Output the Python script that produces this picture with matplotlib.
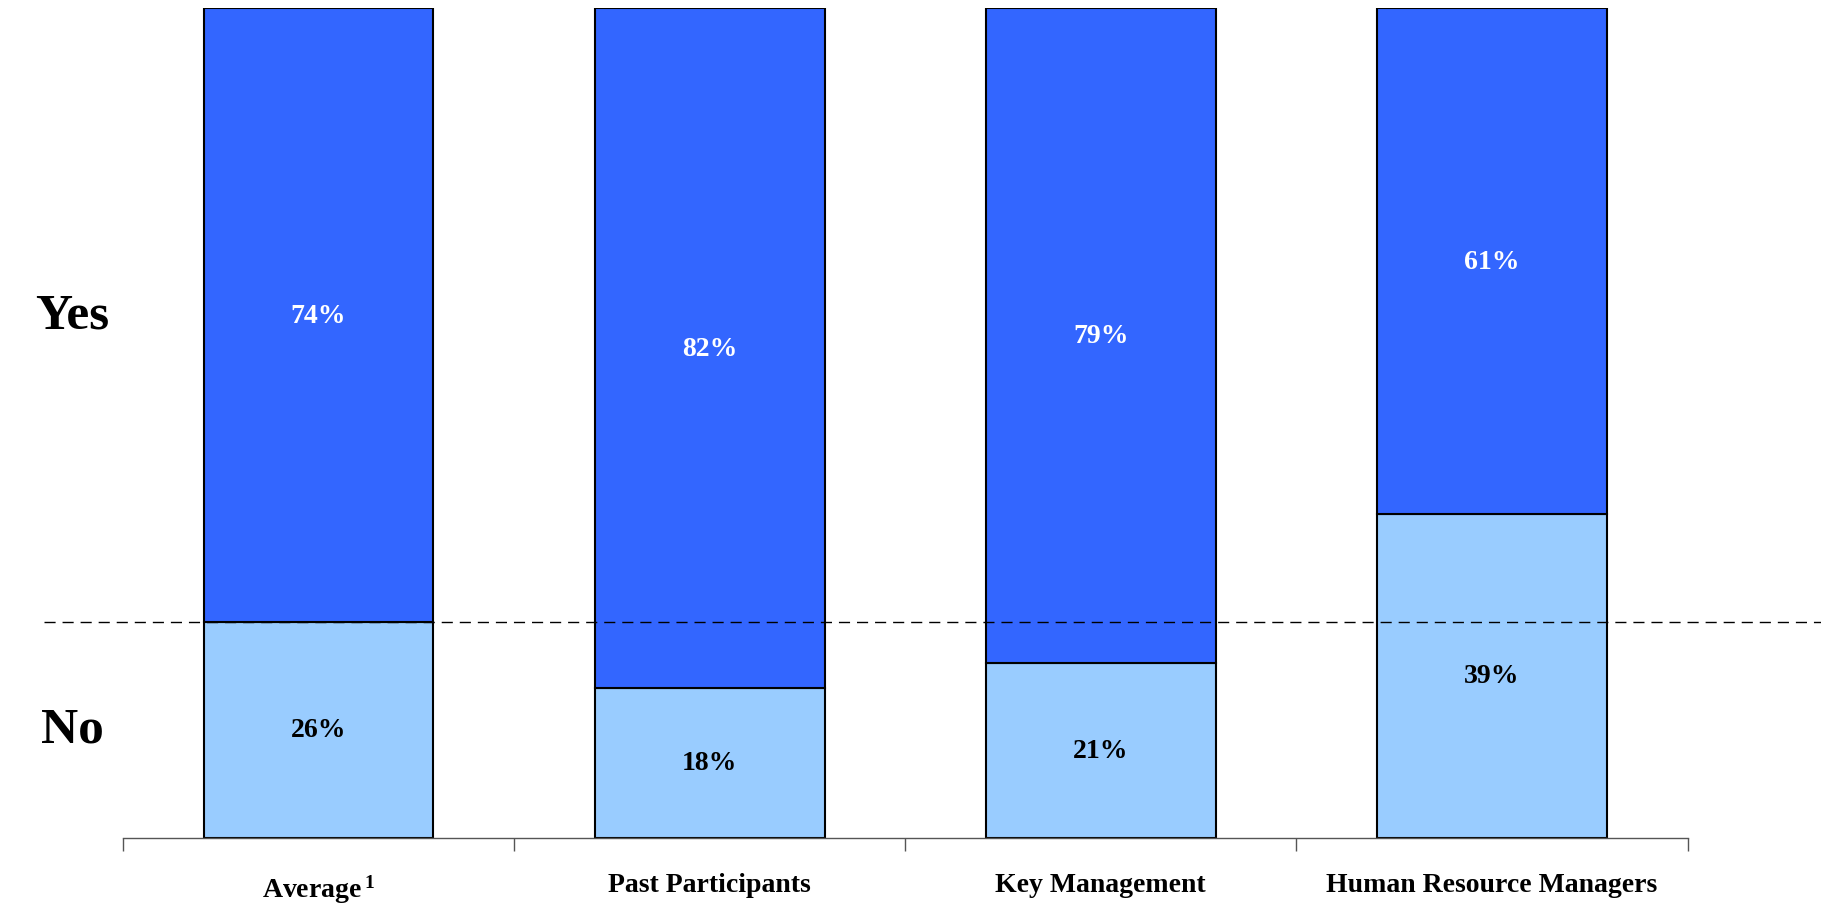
import matplotlib
matplotlib.use("Agg")
import matplotlib.pyplot as plt
import matplotlib.transforms as mtransforms

# survey answers per group, in percent
groups = ["Average$\\,^{1}$", "Past Participants", "Key Management", "Human Resource Managers"]
no_pct = [26, 18, 21, 39]
yes_pct = [74, 82, 79, 61]

plt.rcParams['font.family'] = ['Liberation Serif', 'DejaVu Serif']
plt.rcParams['font.weight'] = 'bold'
plt.rcParams['mathtext.fontset'] = 'custom'
plt.rcParams['mathtext.rm'] = 'Liberation Serif:bold'
plt.rcParams['mathtext.it'] = 'Liberation Serif:bold'
plt.rcParams['mathtext.bf'] = 'Liberation Serif:bold'

dark = "#3366FF"
light = "#99CCFF"

fig = plt.figure(figsize=(18.21, 9.04), dpi=100)
ax = fig.add_axes([0.0675, 0.0724, 0.8592, 0.9173])

x = list(range(len(groups)))
ax.bar(x, no_pct, width=0.5875, color=light, edgecolor="black", linewidth=1.5)
ax.bar(x, yes_pct, width=0.5875, bottom=no_pct, color=dark, edgecolor="black", linewidth=1.5)

# value labels in the middle of each segment
for i in x:
    ax.text(i, no_pct[i] / 2, "%d%%" % no_pct[i], ha="center", va="center",
            fontsize=20, color="black", fontweight="bold")
    ax.text(i, no_pct[i] + yes_pct[i] / 2, "%d%%" % yes_pct[i], ha="center", va="center",
            fontsize=20, color="white", fontweight="bold")

# Yes / No labels on the left, lined up with the average bar
ax.text(-0.63, no_pct[0] + yes_pct[0] / 2, "Yes", ha="center", va="center",
        fontsize=37, fontweight="bold", clip_on=False)
ax.text(-0.63, no_pct[0] / 2, "No", ha="center", va="center",
        fontsize=37, fontweight="bold", clip_on=False)

# dashed line at the average "No" level, running past the axes
trans = mtransforms.blended_transform_factory(ax.transAxes, ax.transData)
ax.plot([-0.0505, 1.09], [no_pct[0], no_pct[0]], transform=trans, color="black",
        linestyle=(0, (8, 5)), linewidth=1, clip_on=False, zorder=5)

ax.set_xlim(-0.5, len(groups) - 0.5)
ax.set_ylim(0, 100)

for s in ["top", "right", "left"]:
    ax.spines[s].set_visible(False)
ax.spines["bottom"].set_color("#555555")
ax.spines["bottom"].set_linewidth(1)

ax.set_yticks([])
ax.set_xticks(x)
ax.set_xticklabels(groups, fontsize=20, fontweight="bold")
ax.tick_params(axis="x", which="major", length=0, pad=25)
ax.set_xticks([i - 0.5 for i in range(len(groups) + 1)], minor=True)
ax.tick_params(axis="x", which="minor", length=9, width=1, color="#555555", direction="out")

fig.savefig("out.png", dpi=100)
